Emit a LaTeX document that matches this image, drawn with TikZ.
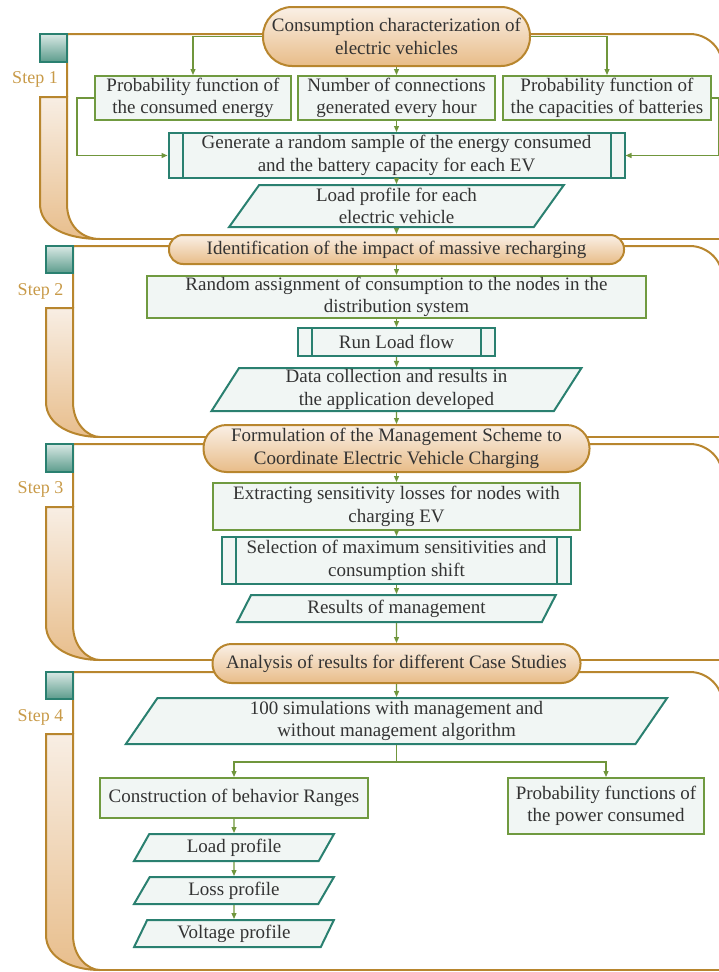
\documentclass[tikz,border=0pt]{standalone}
\usepackage{fontspec}
\setmainfont{Liberation Serif}
\usepackage{tikz}
\usetikzlibrary{arrows.meta, shapes.geometric}

\definecolor{gold}{RGB}{184,134,46}
\definecolor{goldtext}{RGB}{200,154,72}
\definecolor{leaf}{RGB}{112,154,64}
\definecolor{tealline}{RGB}{42,128,112}
\definecolor{arrowgreen}{RGB}{112,150,60}
\definecolor{boxfill}{RGB}{241,246,244}
\definecolor{txt}{RGB}{51,51,51}
\definecolor{pilltop}{RGB}{250,240,230}
\definecolor{pillbot}{RGB}{232,188,136}
\definecolor{bartop}{RGB}{248,238,228}
\definecolor{barbot}{RGB}{232,190,140}
\definecolor{tabtop}{RGB}{216,232,228}
\definecolor{tabbot}{RGB}{92,156,140}

\tikzset{titlebox/.style = {draw=gold, line width=2pt, top color=pilltop, bottom color=pillbot, text=txt, align=center, inner sep=0pt},
  greenbox/.style = {draw=leaf, line width=2pt, fill=boxfill, text=txt, align=center, inner sep=0pt},
  procbox/.style = {draw=tealline, line width=2pt, fill=boxfill, text=txt, align=center, inner sep=0pt,
    path picture={\draw[tealline, line width=2pt] ([xshift=14pt]path picture bounding box.north west) -- ([xshift=14pt]path picture bounding box.south west) ([xshift=-14pt]path picture bounding box.north east) -- ([xshift=-14pt]path picture bounding box.south east);}},
  databox/.style = {trapezium, trapezium left angle=64, trapezium right angle=116, trapezium stretches=true, draw=tealline, line width=2pt, fill=boxfill, text=txt, align=center, inner sep=0pt},
  dims/.style 2 args = {minimum width=#1pt, minimum height=#2pt},
  steptab/.style = {draw=tealline, line width=1.6pt, top color=tabtop, bottom color=tabbot, minimum width=27pt, minimum height=27pt, inner sep=0pt},
  steplabel/.style = {text=goldtext, font=\fontsize{18}{20}\selectfont},
  frameline/.style = {draw=gold, line width=2pt},
  stepbar/.style = {draw=gold, line width=2pt, top color=bartop, bottom color=barbot},
  arr/.style = {draw=arrowgreen, line width=1.2pt, -{Triangle[length=6pt,width=5pt]}}}

\begin{document}
\begin{tikzpicture}[x=1pt, y=-1pt, font=\fontsize{19}{22.5}\selectfont]
\useasboundingbox (0,0) rectangle (719,972);
\clip (0,0) rectangle (719,972);

% frames
\path[stepbar] (40,97) -- (67,97) -- (67,204) .. controls (67,226) and (82,239) .. (100,239) .. controls (66,239) and (40,227) .. (40,204) -- cycle;
\draw[frameline] (67,97) -- (67,34) -- (690,34) .. controls (707,34) and (722,48) .. (722,64) -- (722,239);
\draw[frameline] (100,239) -- (730,239);
\node[steptab, minimum height=28pt] (tab1) at (53.5,48) {};
\node[steplabel] (step1) at (35,79) {Step 1};

\path[stepbar] (46,308) -- (73,308) -- (73,402) .. controls (73,424) and (88,437) .. (100,437) .. controls (72,437) and (46,425) .. (46,402) -- cycle;
\draw[frameline] (73,308) -- (73,246) -- (690,246) .. controls (707,246) and (722,260) .. (722,276) -- (722,437);
\draw[frameline] (100,437) -- (730,437);
\node[steptab] (tab2) at (59.5,259.5) {};
\node[steplabel] (step2) at (40.5,291) {Step 2};

\path[stepbar] (46,507) -- (73,507) -- (73,625) .. controls (73,647) and (88,660) .. (100,660) .. controls (72,660) and (46,648) .. (46,625) -- cycle;
\draw[frameline] (73,507) -- (73,444) -- (690,444) .. controls (707,444) and (722,458) .. (722,474) -- (722,660);
\draw[frameline] (100,660) -- (730,660);
\node[steptab, minimum height=28pt] (tab3) at (59.5,458) {};
\node[steplabel] (step3) at (40.5,489) {Step 3};

\path[stepbar] (46,734) -- (73,734) -- (73,935) .. controls (73,957) and (88,970) .. (100,970) .. controls (72,970) and (46,958) .. (46,935) -- cycle;
\draw[frameline] (73,734) -- (73,672) -- (690,672) .. controls (707,672) and (722,686) .. (722,702) -- (722,970);
\draw[frameline] (100,970) -- (730,970);
\node[steptab] (tab4) at (59.5,685.5) {};
\node[steplabel] (step4) at (40.5,717) {Step 4};

% nodes
\node[titlebox, dims={267}{59}, rounded corners=29pt] (t1) at (396.5,36.5) {Consumption characterization of\\electric vehicles};
\node[greenbox, dims={196}{44}] (a) at (193,98) {Probability function of\\the consumed energy};
\node[greenbox, dims={197}{44}] (b) at (396.5,98) {Number of connections\\generated every hour};
\node[greenbox, dims={208}{44}] (c) at (607,98) {Probability function of\\the capacities of batteries};
\node[procbox, dims={456}{45}] (d) at (396.5,155.5) {Generate a random sample of the energy consumed\\and the battery capacity for each EV};
\node[databox, dims={335}{42}] (e) at (396.5,206) {Load profile for each\\electric vehicle};

\node[titlebox, dims={455}{29}, rounded corners=14pt] (t2) at (396.5,249.5) {Identification of the impact of massive recharging};
\node[greenbox, dims={499}{42}] (f) at (396.5,297) {Random assignment of consumption to the nodes in the\\distribution system};
\node[procbox, dims={197}{28}] (g) at (396.5,342) {Run Load flow};
\node[databox, dims={371}{43}] (h) at (396.5,389.5) {Data collection and results in\\the application developed};

\node[titlebox, dims={386}{47}, rounded corners=23pt] (t3) at (396.5,448.5) {Formulation of the Management Scheme to\\Coordinate Electric Vehicle Charging};
\node[greenbox, dims={367}{47}] (i) at (396.5,506.5) {Extracting sensitivity losses for nodes with\\charging EV};
\node[procbox, dims={349}{47}] (j) at (396.5,560.5) {Selection of maximum sensitivities and\\consumption shift};
\node[databox, dims={319}{27}] (k) at (396.5,608.5) {Results of management};

\node[titlebox, dims={368}{39}, rounded corners=19pt] (t4) at (396.5,663.5) {Analysis of results for different Case Studies};
\node[databox, dims={542}{46}] (l) at (396.5,721) {100 simulations with management and\\without management algorithm};
\node[greenbox, dims={268}{40}] (m) at (234,798) {Construction of behavior Ranges};
\node[greenbox, dims={196}{56}] (n) at (606,806) {Probability functions of\\the power consumed};
\node[databox, dims={200}{27}] (o) at (234,847.5) {Load profile};
\node[databox, dims={200}{27}] (p) at (234,890.5) {Loss profile};
\node[databox, dims={200}{27}] (q) at (234,933.5) {Voltage profile};

%edges
\draw[arr] (t1.west) -| (a.north);
\draw[arr] (t1.east) -| (c.north);
\path (t1) edge[arr] (b);
\draw[arr] (a.west) -- ++(-17,0) |- (d.west);
\draw[arr] (c.east) -- ++(7,0) |- (d.east);
\path (b) edge[arr] (d);
\path (d) edge[arr] (e);
\path (e) edge[arr] (t2);

\path (t2) edge[arr] (f);
\path (f) edge[arr] (g);
\path (g) edge[arr] (h);
\path (h) edge[arr] (t3);

\path (t3) edge[arr] (i);
\path (i) edge[arr] (j);
\path (j) edge[arr] (k);
\path (k) edge[arr] (t4);

\path (t4) edge[arr] (l);
\draw[arr] (l.south) -- ++(0,17) -| (m.north);
\draw[arr] (l.south) -- ++(0,17) -| (n.north);
\path (m) edge[arr] (o);
\path (o) edge[arr] (p);
\path (p) edge[arr] (q);
\end{tikzpicture}
\end{document}
